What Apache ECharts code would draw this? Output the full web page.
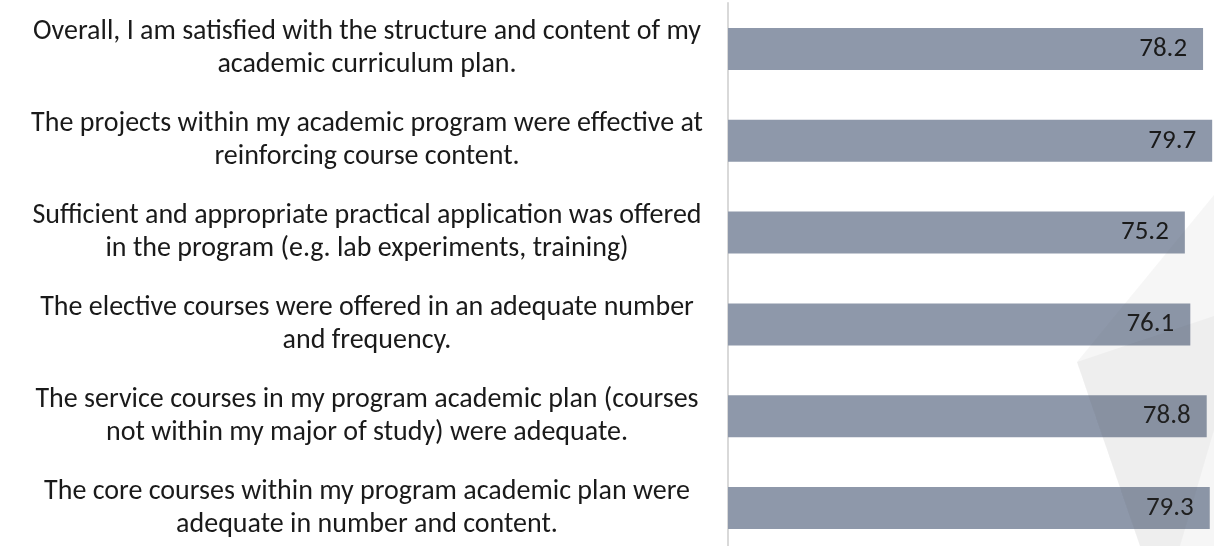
<!DOCTYPE html>
<html>
<head>
<meta charset="utf-8">
<script src="https://cdn.jsdelivr.net/npm/echarts@6/dist/echarts.min.js"></script>
<style>
html,body{margin:0;padding:0;background:#fff;}
#chart{width:1214px;height:546px;}
</style>
</head>
<body>
<div id="chart"></div>
<script>
const categories = [
  "Overall, I am satisfied with the structure and content of my\nacademic curriculum plan.",
  "The projects within my academic program were effective at\nreinforcing course content.",
  "Sufficient and appropriate practical application was offered\nin the program (e.g. lab experiments, training)",
  "The elective courses were offered in an adequate number\nand frequency.",
  "The service courses in my program academic plan (courses\nnot within my major of study) were adequate.",
  "The core courses within my program academic plan were\nadequate in number and content."
];
const values = [78.2, 79.7, 75.2, 76.1, 78.8, 79.3];

const FONT = "Carlito, Calibri, Lato, 'Liberation Sans', sans-serif";
const chart = echarts.init(document.getElementById('chart'));
chart.setOption({
  animation: false,
  backgroundColor: '#ffffff',
  grid: { left: 728, width: 486, top: 3, height: 551, containLabel: false, outerBoundsMode: 'none' },
  xAxis: { type: 'value', min: 0, max: 80, show: false },
  yAxis: {
    type: 'category',
    data: categories,
    inverse: true,
    axisLine: { show: true, lineStyle: { color: '#d9d9d9', width: 2 } },
    axisTick: { show: false },
    splitLine: { show: false },
    axisLabel: {
      margin: 361,
      align: 'center',
      verticalAlign: 'middle',
      color: '#1a1a1a',
      fontFamily: FONT,
      fontSize: 28,
      lineHeight: 33,
      padding: [0, 0, 7, 0]
    }
  },
  series: [{
    type: 'bar',
    data: values,
    barWidth: 42,
    itemStyle: { color: '#8e98aa' },
    label: {
      show: true,
      position: 'insideRight',
      distance: 16,
      color: '#1a1a1a',
      fontFamily: FONT,
      fontSize: 27,
      formatter: p => p.value.toFixed(1)
    }
  }],
  graphic: [
    { type: 'polygon', z: 100, silent: true,
      shape: { points: [[1214,195],[1077,362],[1140,546],[1214,546]] },
      style: { fill: 'rgba(110,110,110,0.06)' } },
    { type: 'polygon', z: 101, silent: true,
      shape: { points: [[1077,362],[1214,316],[1214,430],[1180,546],[1140,546]] },
      style: { fill: 'rgba(80,80,80,0.045)' } }
  ]
});
</script>
</body>
</html>
